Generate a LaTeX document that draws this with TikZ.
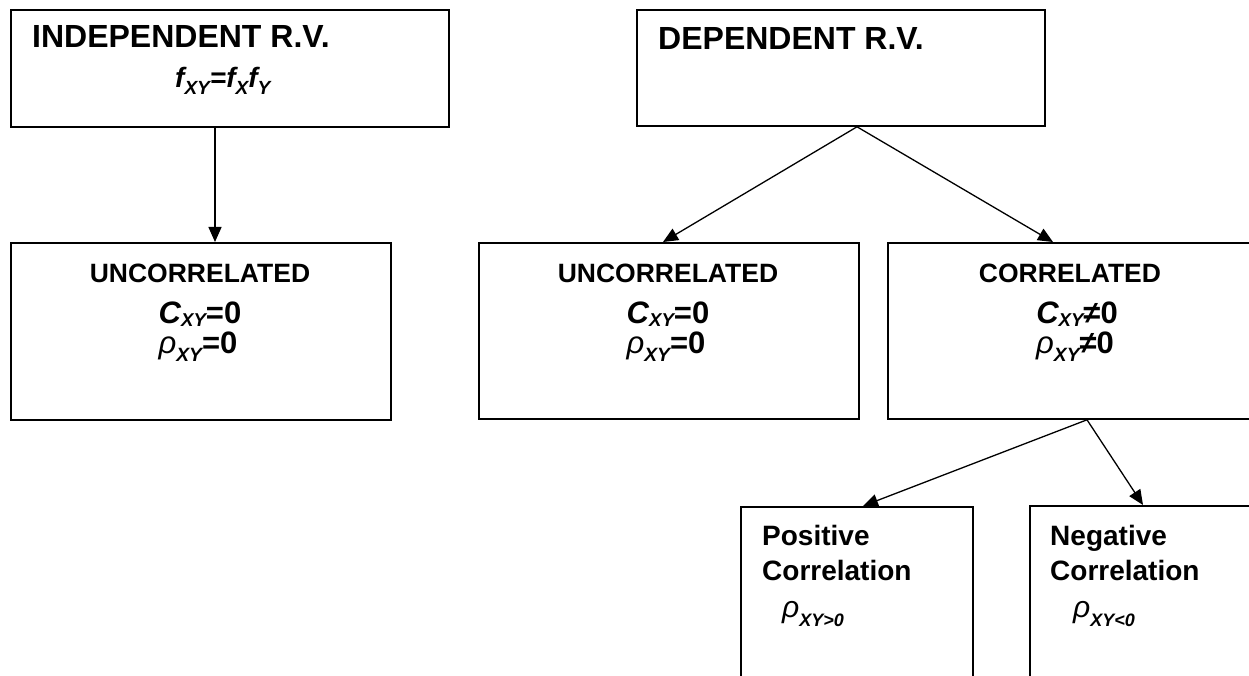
\documentclass[tikz,border=0pt]{standalone}
\usepackage{fontspec}
\usepackage{graphicx}
\setmainfont{Liberation Sans}
\usetikzlibrary{arrows.meta,calc}
\newcommand\lsub[3][0.72]{\raisebox{-#2}{\scalebox{#1}{#3}}}
\tikzset{
  box/.style={draw, line width=1.8pt, anchor=north west, inner sep=0pt},
  lbl/.style={inner sep=0pt, font=\bfseries},
  conn/.style={line width=1.3pt, -{Triangle[length=15pt,width=13pt]}},
}
\begin{document}
\begin{tikzpicture}[x=1pt,y=-1pt]
\clip (0,0) rectangle (1249,676);
% boxes
\node[box, minimum width=438pt, minimum height=117pt] (ind) at (10,9) {};
\node[box, minimum width=408pt, minimum height=116pt] (dep) at (636,9) {};
\node[box, minimum width=380pt, minimum height=177pt] (unc1) at (10,242) {};
\node[box, minimum width=380pt, minimum height=176pt] (unc2) at (478,242) {};
\node[box, minimum width=400pt, minimum height=176pt] (cor) at (887,242) {};
\node[box, minimum width=232pt, minimum height=200pt] (pos) at (740,506) {};
\node[box, minimum width=260pt, minimum height=200pt] (neg) at (1029,505) {};
% texts
\node[lbl, anchor=base west, font=\fontsize{32}{32}\selectfont\bfseries] (t1) at (32,48) {INDEPENDENT R.V.};
\node[lbl, anchor=base west, font=\fontsize{28}{28}\selectfont\bfseries\itshape] (t2) at (175,88) {f\lsub[0.68]{0.25em}{XY}=f\lsub[0.68]{0.25em}{X}f\lsub[0.68]{0.25em}{Y}};
\node[lbl, anchor=base west, font=\fontsize{32}{32}\selectfont\bfseries] (t3) at (658,50) {DEPENDENT R.V.};
% uncorrelated left
\node[lbl, anchor=base, font=\fontsize{26.5}{26.5}\selectfont\bfseries] (u1a) at (200,282) {UNCORRELATED};
\node[lbl, anchor=base, font=\fontsize{31}{31}\selectfont\bfseries] (u1b) at (200,323) {\textit{C\lsub[0.6]{0.1em}{XY}}=0};
\node[lbl, anchor=base, font=\fontsize{31}{31}\selectfont\bfseries] (u1c) at (198,353) {{\mdseries\itshape ρ}\textit{\lsub[0.62]{0.27em}{XY}}=0};
% uncorrelated middle
\node[lbl, anchor=base, font=\fontsize{26.5}{26.5}\selectfont\bfseries] (u2a) at (668,282) {UNCORRELATED};
\node[lbl, anchor=base, font=\fontsize{31}{31}\selectfont\bfseries] (u2b) at (668,323) {\textit{C\lsub[0.6]{0.1em}{XY}}=0};
\node[lbl, anchor=base, font=\fontsize{31}{31}\selectfont\bfseries] (u2c) at (666,353) {{\mdseries\itshape ρ}\textit{\lsub[0.62]{0.27em}{XY}}=0};
% correlated
\node[lbl, anchor=base, font=\fontsize{26.5}{26.5}\selectfont\bfseries] (c1) at (1070,282) {CORRELATED};
\node[lbl, anchor=base, font=\fontsize{31}{31}\selectfont\bfseries] (c2) at (1077,323) {\textit{C\lsub[0.6]{0.1em}{XY}}≠0};
\node[lbl, anchor=base, font=\fontsize{31}{31}\selectfont\bfseries] (c3) at (1075,353) {{\mdseries\itshape ρ}\textit{\lsub[0.62]{0.27em}{XY}}≠0};
% positive / negative
\node[lbl, anchor=base west, font=\fontsize{28}{28}\selectfont\bfseries] (p1) at (762,545) {Positive};
\node[lbl, anchor=base west, font=\fontsize{28}{28}\selectfont\bfseries] (p1b) at (762,580) {Correlation};
\node[lbl, anchor=base west, font=\fontsize{30}{30}\selectfont] (p2) at (782,617) {\textit{ρ}\textbf{\textit{\lsub[0.6]{0.3em}{XY>0}}}};
\node[lbl, anchor=base west, font=\fontsize{28}{28}\selectfont\bfseries] (n1) at (1050,545) {Negative};
\node[lbl, anchor=base west, font=\fontsize{28}{28}\selectfont\bfseries] (n1b) at (1050,580) {Correlation};
\node[lbl, anchor=base west, font=\fontsize{30}{30}\selectfont] (n2) at (1073,617) {\textit{ρ}\textbf{\textit{\lsub[0.6]{0.3em}{XY<0}}}};
% connectors
\coordinate (ia) at ($(ind.south west)+(205,0)$);
\coordinate (ib) at ($(unc1.north west)+(205,0)$);
\draw[conn] (ia) -- (ib);
\coordinate (da) at ($(dep.south west)+(221,0)$);
\coordinate (db) at ($(unc2.north west)+(185,0)$);
\coordinate (dc) at ($(cor.north west)+(166,0)$);
\draw[conn] (da) -- (db);
\draw[conn] (da) -- (dc);
\coordinate (ca) at ($(cor.south west)+(200,0)$);
\coordinate (cb) at ($(pos.north west)+(123,0)$);
\coordinate (cc) at ($(neg.north west)+(114,0)$);
\draw[conn] (ca) -- (cb);
\draw[conn] (ca) -- (cc);
\end{tikzpicture}
\end{document}
